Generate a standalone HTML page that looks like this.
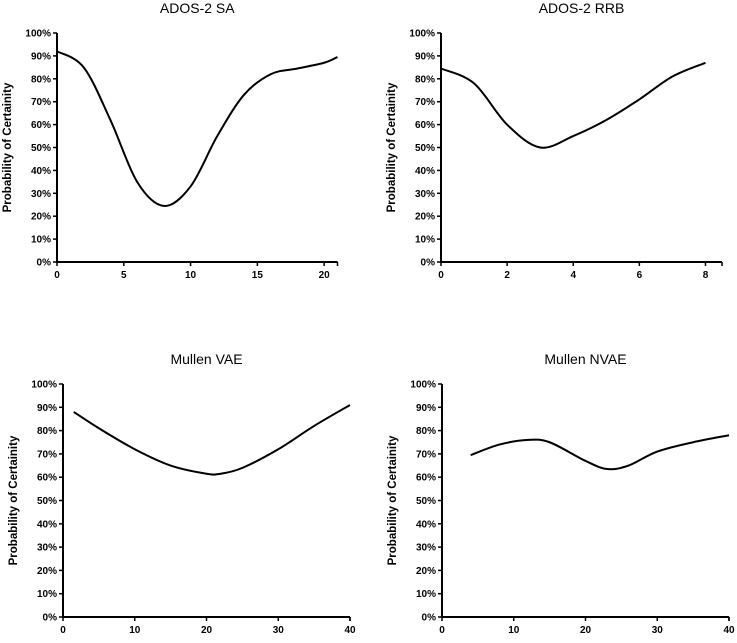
<!DOCTYPE html>
<html><head><meta charset="utf-8"><style>
body{margin:0;background:#fff;font-family:"Liberation Sans",sans-serif}
svg text{font-family:"Liberation Sans",sans-serif}
</style></head><body>
<svg id="s" width="737" height="638"></svg>
<script>
const saX=[0,2,4,6,8,10,12,14,16,18,20,21];
const saY=[92,85,62,35,24.5,33,55,73,82,84.5,87,89.5];
const rrbX=[0,1,2,3,4,5,6,7,8];
const rrbY=[84.5,78,60,50,55,62,71,81,87];
const vaeX=[1.5,5,10,15,20,22,25,30,35,40];
const vaeY=[88,81,72,65,61.5,61.5,64,72,82,91];
const nvaeX=[4,8,12,15,20,23,26,30,35,40];
const nvaeY=[69.5,74,76,75,67,63.5,65,71,75,78];
const saTicks=[0,5,10,15,20];
const rrbTicks=[0,2,4,6,8];
const mTicks=[0,10,20,30,40];
const yTicks=[0,10,20,30,40,50,60,70,80,90,100];
const NS="http://www.w3.org/2000/svg";
const svg=document.getElementById('s');
function mk(t,a,p){const e=document.createElementNS(NS,t);for(const k in a)e.setAttribute(k,a[k]);(p||svg).appendChild(e);return e;}
const panels=[
 {name:'ados-sa',title:'ADOS-2 SA',x0:57,x1:337.5,xmax:21,yTop:33,yBot:262,xs:saX,ys:saY,ticks:saTicks},
 {name:'ados-rrb',title:'ADOS-2 RRB',x0:441,x1:722,xmax:8.5,yTop:33,yBot:262,xs:rrbX,ys:rrbY,ticks:rrbTicks},
 {name:'mullen-vae',title:'Mullen VAE',x0:63,x1:350,xmax:40,yTop:384,yBot:617,xs:vaeX,ys:vaeY,ticks:mTicks},
 {name:'mullen-nvae',title:'Mullen NVAE',x0:442,x1:729,xmax:40,yTop:384,yBot:617,xs:nvaeX,ys:nvaeY,ticks:mTicks}
];
panels.forEach(p=>{
 const g=mk('g',{});
 
 
 const sx=v=>p.x0+(p.x1-p.x0)*v/p.xmax;
 const sy=v=>p.yBot-(p.yBot-p.yTop)*v/100;
 const t=mk('text',{x:(p.x0+p.x1)/2,y:p.yTop-20,'text-anchor':'middle','font-size':'14'},g);t.textContent=p.title;
 
 const yt=mk('text',{transform:`translate(${p.x0-46},${(p.yTop+p.yBot)/2}) rotate(-90)`,'text-anchor':'middle','font-size':'11.5','font-weight':'bold'},g);yt.textContent='Probability of Certainity';
 
 const ya=mk('line',{x1:p.x0,y1:p.yTop,x2:p.x0,y2:p.yBot,stroke:'#000','stroke-width':'2'},g);
 
 const xa=mk('line',{x1:p.x0-1,y1:p.yBot,x2:p.x1,y2:p.yBot,stroke:'#000','stroke-width':'2'},g);
 
 yTicks.forEach(v=>{
  mk('line',{x1:p.x0-4,y1:sy(v),x2:p.x0,y2:sy(v),stroke:'#000','stroke-width':'1.5'},g);
  const l=mk('text',{x:p.x0-6,y:sy(v)+3.5,'text-anchor':'end','font-size':'10','font-weight':'bold'},g);l.textContent=v+'%';
  
 });
 p.ticks.forEach(v=>{
  mk('line',{x1:sx(v),y1:p.yBot,x2:sx(v),y2:p.yBot+4,stroke:'#000','stroke-width':'1.5'},g);
  const l=mk('text',{x:sx(v),y:p.yBot+16,'text-anchor':'middle','font-size':'10','font-weight':'bold'},g);l.textContent=v;
  
 });
 mk('line',{x1:p.x1,y1:p.yBot,x2:p.x1,y2:p.yBot+4,stroke:'#000','stroke-width':'1.5'},g);
 const pts=p.xs.map((x,i)=>[sx(x),sy(p.ys[i])]);
 let d='M'+pts[0][0]+','+pts[0][1];
 for(let i=0;i<pts.length-1;i++){
  const p0=pts[i-1]||pts[i],p1=pts[i],p2=pts[i+1],p3=pts[i+2]||p2;
  const c1=[p1[0]+(p2[0]-p0[0])/6,p1[1]+(p2[1]-p0[1])/6];
  const c2=[p2[0]-(p3[0]-p1[0])/6,p2[1]-(p3[1]-p1[1])/6];
  d+=` C${c1[0]},${c1[1]} ${c2[0]},${c2[1]} ${p2[0]},${p2[1]}`;
 }
 const c=mk('path',{d:d,fill:'none',stroke:'#000','stroke-width':'2'},g);
 
});
</script>
</body></html>
